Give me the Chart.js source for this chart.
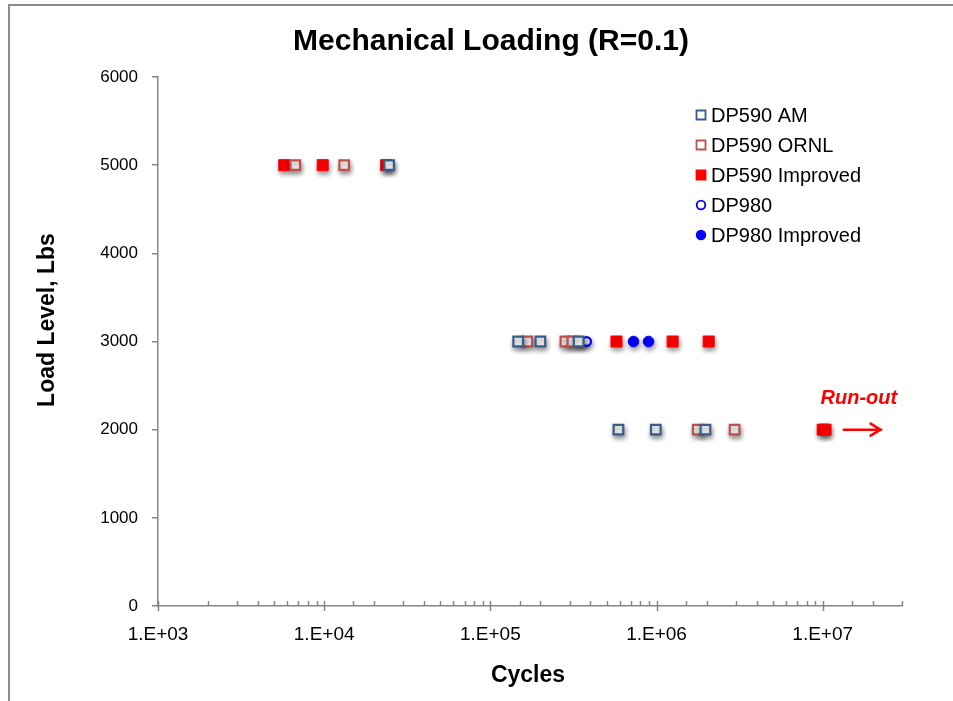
<!DOCTYPE html>
<html>
<head>
<meta charset="utf-8">
<script src="https://cdn.jsdelivr.net/npm/chart.js@4/dist/chart.umd.min.js"></script>
<style>
  html, body { margin: 0; padding: 0; background: #fff; }
  canvas { display: block; }
</style>
</head>
<body>
<canvas id="loading-chart" width="953" height="701"></canvas>
<script>
// fatigue results: cycles to failure at each load level
const am590Cycles = [24600, 147000, 200000, 340000, 590000, 990000, 1970000];
const am590Load = [5000, 3000, 3000, 3000, 2000, 2000, 2000];

const ornl590Cycles = [6700, 13200, 167000, 283000, 312000, 1770000, 2950000];
const ornl590Load = [5000, 5000, 3000, 3000, 3000, 2000, 2000];

const improved590Cycles = [5750, 9800, 23600, 574000, 1250000, 2060000, 10000000, 10400000];
const improved590Load = [5000, 5000, 5000, 3000, 3000, 3000, 2000, 2000];

const dp980Cycles = [353000, 379000];
const dp980Load = [3000, 3000];

const improved980Cycles = [727000, 895000];
const improved980Load = [3000, 3000];

const seriesNames = ["DP590 AM", "DP590 ORNL", "DP590 Improved", "DP980", "DP980 Improved"];

const xDecades = [1e3, 1e4, 1e5, 1e6, 1e7];
const xTickLabels = ["1.E+03", "1.E+04", "1.E+05", "1.E+06", "1.E+07"];
const yTickLabels = ["0", "1000", "2000", "3000", "4000", "5000", "6000"];

const toPoints = (xs, ys) => xs.map((x, i) => ({ x: x, y: ys[i] }));

const FONT = "'Liberation Sans', Arial, sans-serif";
const AXIS_GRAY = "#868686";

// soft drop shadow under the markers, like the spreadsheet original
const markerShadow = {
  id: "markerShadow",
  beforeDatasetsDraw(chart) {
    const ctx = chart.ctx;
    ctx.save();
    ctx.shadowColor = "rgba(0, 0, 0, 0.42)";
    ctx.shadowBlur = 5;
    ctx.shadowOffsetX = 1;
    ctx.shadowOffsetY = 3;
  },
  afterDatasetsDraw(chart) {
    chart.ctx.restore();
  },
};

// frame, titles, x tick marks, legend and run-out note
const decorations = {
  id: "decorations",
  beforeDraw(chart) {
    const ctx = chart.ctx;
    ctx.save();
    ctx.strokeStyle = "#8c8c8c";
    ctx.lineWidth = 2;
    ctx.beginPath();
    ctx.moveTo(9, chart.height);
    ctx.lineTo(9, 5);
    ctx.lineTo(chart.width, 5);
    ctx.stroke();
    ctx.restore();
  },
  afterDraw(chart) {
    const ctx = chart.ctx;
    const xs = chart.scales.x;
    const ys = chart.scales.y;
    const area = chart.chartArea;
    ctx.save();

    // x tick marks: decades cross the axis, the rest point inward
    ctx.strokeStyle = AXIS_GRAY;
    ctx.lineWidth = 1.5;
    xs.ticks.forEach((t) => {
      const px = Math.round(xs.getPixelForValue(t.value)) + 0.5;
      const major = xDecades.includes(t.value);
      ctx.beginPath();
      ctx.moveTo(px, area.bottom - 5);
      ctx.lineTo(px, area.bottom + (major ? 5 : 0));
      ctx.stroke();
    });

    // chart title
    ctx.fillStyle = "#000";
    ctx.textAlign = "center";
    ctx.textBaseline = "middle";
    ctx.font = "bold 30px " + FONT;
    ctx.fillText("Mechanical Loading (R=0.1)", 491, 42);

    // axis titles
    ctx.font = "bold 23px " + FONT;
    ctx.fillText("Cycles", 528, 676);
    ctx.save();
    ctx.translate(48, 320);
    ctx.rotate(-Math.PI / 2);
    ctx.fillText("Load Level, Lbs", 0, 0);
    ctx.restore();

    // legend inside the plot
    ctx.textAlign = "left";
    ctx.font = "20px " + FONT;
    chart.data.datasets.forEach((ds, i) => {
      const cy = 115 + i * 30;
      const cx = 701;
      ctx.fillStyle = ds.backgroundColor;
      ctx.strokeStyle = ds.borderColor;
      ctx.lineWidth = 1.8;
      ctx.beginPath();
      if (ds.pointStyle === "rect") {
        ctx.rect(cx - 4.5, cy - 4.5, 9, 9);
      } else {
        ctx.arc(cx, cy, 4.3, 0, Math.PI * 2);
      }
      ctx.fill();
      ctx.stroke();
      ctx.fillStyle = "#000";
      ctx.fillText(ds.label, 711, cy + 1);
    });

    // run-out arrow next to the unbroken specimens
    const ay = ys.getPixelForValue(2000);
    const ax0 = xs.getPixelForValue(1.34e7);
    const ax1 = xs.getPixelForValue(2.23e7);
    ctx.strokeStyle = "#ff0000";
    ctx.lineWidth = 2.5;
    ctx.lineCap = "round";
    ctx.beginPath();
    ctx.moveTo(ax0, ay);
    ctx.lineTo(ax1, ay);
    ctx.moveTo(ax1 - 10, ay - 6);
    ctx.lineTo(ax1, ay);
    ctx.lineTo(ax1 - 10, ay + 6);
    ctx.stroke();

    ctx.fillStyle = "#ff0000";
    ctx.textAlign = "center";
    ctx.font = "italic bold 20px " + FONT;
    ctx.fillText("Run-out", xs.getPixelForValue(1.65e7), ys.getPixelForValue(2350));

    ctx.restore();
  },
};

new Chart(document.getElementById("loading-chart"), {
  type: "scatter",
  data: {
    datasets: [
      {
        label: seriesNames[0],
        data: toPoints(am590Cycles, am590Load),
        pointStyle: "rect",
        pointRadius: 6.8,
        borderWidth: 2.2,
        borderColor: "#385d8a",
        backgroundColor: "#ffffff",
      },
      {
        label: seriesNames[1],
        data: toPoints(ornl590Cycles, ornl590Load),
        pointStyle: "rect",
        pointRadius: 6.8,
        borderWidth: 2.2,
        borderColor: "#c0504d",
        backgroundColor: "#ffffff",
      },
      {
        label: seriesNames[2],
        data: toPoints(improved590Cycles, improved590Load),
        pointStyle: "rect",
        pointRadius: 7.8,
        borderWidth: 1,
        borderColor: "#ff0000",
        backgroundColor: "#ff0000",
      },
      {
        label: seriesNames[3],
        data: toPoints(dp980Cycles, dp980Load),
        pointStyle: "circle",
        pointRadius: 4.4,
        borderWidth: 2.2,
        borderColor: "#0000ff",
        backgroundColor: "#ffffff",
      },
      {
        label: seriesNames[4],
        data: toPoints(improved980Cycles, improved980Load),
        pointStyle: "circle",
        pointRadius: 5.3,
        borderWidth: 1,
        borderColor: "#0000ff",
        backgroundColor: "#0000ff",
      },
    ],
  },
  options: {
    responsive: false,
    animation: false,
    devicePixelRatio: 1,
    events: [],
    layout: { padding: { left: 0, right: 51, top: 77, bottom: 0 } },
    plugins: {
      legend: { display: false },
      title: { display: false },
      tooltip: { enabled: false },
    },
    scales: {
      x: {
        type: "logarithmic",
        min: 1e3,
        max: 3e7,
        afterFit: (scale) => { scale.height = 95; },
        grid: { display: false },
        border: { color: AXIS_GRAY, width: 1.5 },
        ticks: {
          autoSkip: false,
          maxRotation: 0,
          padding: 9,
          color: "#000",
          font: { family: FONT, size: 19 },
          callback: (value) => {
            const idx = xDecades.indexOf(value);
            return idx >= 0 ? xTickLabels[idx] : "";
          },
        },
      },
      y: {
        min: 0,
        max: 6000,
        afterFit: (scale) => { scale.width = 158; },
        grid: {
          drawOnChartArea: false,
          drawTicks: true,
          tickLength: 6,
          color: AXIS_GRAY,
          lineWidth: 1.5,
        },
        border: { color: AXIS_GRAY, width: 1.5 },
        ticks: {
          stepSize: 1000,
          padding: 14,
          color: "#000",
          font: { family: FONT, size: 17 },
          callback: (value, i) => yTickLabels[i],
        },
      },
    },
  },
  plugins: [markerShadow, decorations],
});
</script>
</body>
</html>
